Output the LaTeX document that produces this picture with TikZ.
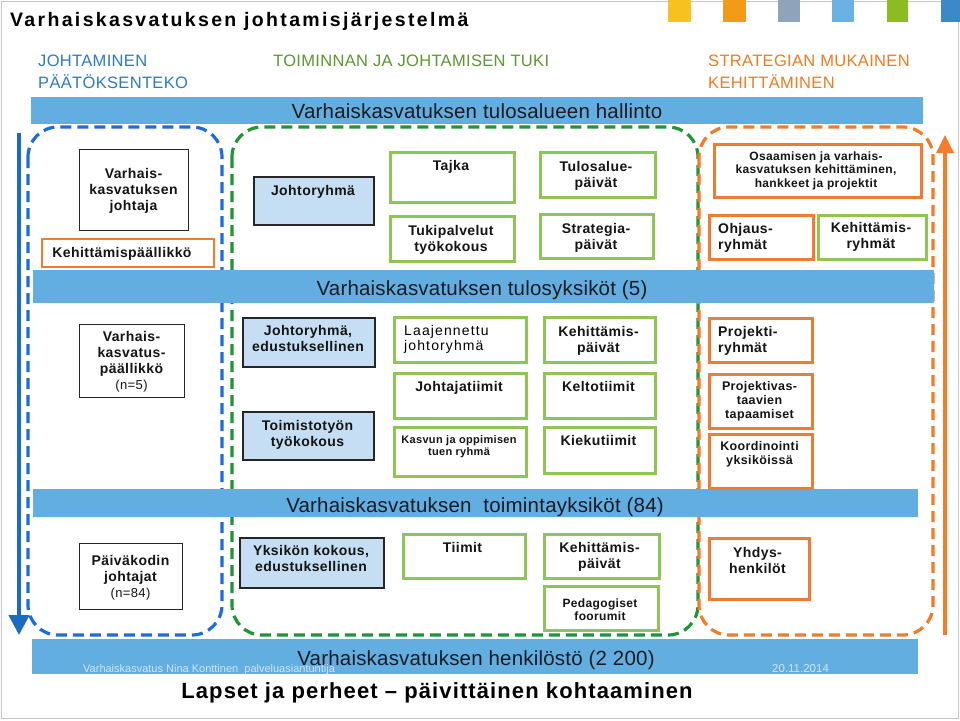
\documentclass[tikz,border=0pt]{standalone}
\usepackage{fontspec}
\setmainfont{Liberation Sans}
\newfontfamily\Ls[LetterSpace=3]{Liberation Sans}
\newfontfamily\Lw[LetterSpace=8]{Liberation Sans}
\newfontfamily\Lt[LetterSpace=12]{Liberation Sans}
\newfontfamily\Lb[LetterSpace=5]{Liberation Sans}
\newfontfamily\Lh[LetterSpace=2]{Liberation Sans}
\newfontfamily\Lr[LetterSpace=1]{Liberation Sans}
\usetikzlibrary{arrows.meta}
\newcommand\fs[2]{\fontsize{#1}{#2}\selectfont}
\definecolor{barblue}{HTML}{63AEE1}
\definecolor{bartext}{HTML}{1B1B22}
\definecolor{hblue}{HTML}{2C7BC4}
\definecolor{hgreen}{HTML}{5E9632}
\definecolor{horange}{HTML}{F07C22}
\definecolor{dblue}{HTML}{1E6CDB}
\definecolor{dgreen}{HTML}{1E9633}
\definecolor{dorange}{HTML}{F07C2A}
\definecolor{ablue}{HTML}{1A6BC2}
\definecolor{aorange}{HTML}{F37D2B}
\definecolor{boxgreen}{HTML}{8DC653}
\definecolor{boxorange}{HTML}{EE7D31}
\definecolor{lightfill}{HTML}{C5DEF3}
\definecolor{foot}{HTML}{D3E4F1}
\definecolor{sqyellow}{HTML}{F7C11F}
\definecolor{sqorange}{HTML}{F39B16}
\definecolor{sqgray}{HTML}{8FA3BB}
\definecolor{sqlblue}{HTML}{6BB1E3}
\definecolor{sqgreen}{HTML}{8BBC22}
\definecolor{sqblue}{HTML}{3D88C9}
\newcommand\boxn[9]{%
  \node[#2, anchor=north west, minimum width={(#5-#3)*1pt}, minimum height={(#6-#4)*1pt}] (#1) at (#3,#4) {};
  \node[txt, #7] (#1-t) at #8 {#9};%
}
\begin{document}
\begin{tikzpicture}[x=1pt,y=-1pt,
  txt/.style={inner sep=0pt, align=center, text=black!92, font=\Ls\bfseries\fs{14}{16}},
  gbox/.style={draw=boxgreen, line width=3pt, fill=white, inner sep=0pt},
  obox/.style={draw=boxorange, line width=3pt, fill=white, inner sep=0pt},
  kbox/.style={draw=black!85, line width=1.3pt, fill=white, inner sep=0pt},
  lbox/.style={draw=black!85, line width=1.8pt, fill=lightfill, inner sep=0pt},
  bar/.style={fill=barblue, draw=none, inner sep=0pt},
  bartxt/.style={anchor=base, text=bartext, font=\Lr\fs{20.5}{24}},
  head/.style={anchor=base west, inner sep=0pt, align=left, font=\Lh\fs{16.5}{21.6}},
  dreg/.style={line width=3.2pt, dash pattern=on 11pt off 6pt, rounded corners=30pt},
  sq/.style={draw=none, inner sep=0pt, anchor=north west, minimum height=22pt}]
\useasboundingbox (0,0) rectangle (960,720);
\fill[white] (0,0) rectangle (960,720);
\draw[black!22, line width=1pt] (1,1) rectangle (958.5,718.5);
% top squares
\node[sq, fill=sqyellow, minimum width=23pt] (s1) at (668,0) {};
\node[sq, fill=sqorange, minimum width=23pt] (s2) at (723,0) {};
\node[sq, fill=sqgray, minimum width=22pt] (s3) at (778,0) {};
\node[sq, fill=sqlblue, minimum width=22pt] (s4) at (832,0) {};
\node[sq, fill=sqgreen, minimum width=21pt] (s5) at (887,0) {};
\node[sq, fill=sqblue, minimum width=19pt] (s6) at (941,0) {};
% title
\node[anchor=base west, inner sep=0pt, font=\Lt\bfseries\fs{19.5}{22}] (title) at (10,27) {Varhaiskasvatuksen johtamisjärjestelmä};
% headers
\node[head, text=hblue] (h1) at (38,88.3) {JOHTAMINEN\\PÄÄTÖKSENTEKO};
\node[head, text=hgreen] (h2) at (273,66.7) {TOIMINNAN JA JOHTAMISEN TUKI};
\node[head, text=horange] (h3) at (708,88.3) {STRATEGIAN MUKAINEN\\KEHITTÄMINEN};
% dashed regions
\draw[dreg, draw=dblue] (28,127) rectangle (222,635);
\draw[dreg, draw=dgreen] (232,127) rectangle (698,635);
\draw[dreg, draw=dorange] (699,127) rectangle (933,635);
% arrows
\coordinate (ba1) at (19,133);
\coordinate (ba2) at (19,635);
\draw[line width=4pt, draw=ablue, -{Triangle[width=20pt,length=20pt]}] (ba1) -- (ba2);
\coordinate (oa1) at (945,635);
\coordinate (oa2) at (945,135);
\draw[line width=3.5pt, draw=aorange, -{Triangle[width=17pt,length=18pt]}] (oa1) -- (oa2);
% bars
\boxn{bar1}{bar}{31}{97}{923}{124}{bartxt}{(477,118)}{Varhaiskasvatuksen tulosalueen hallinto}
\boxn{bar2}{bar}{33}{270}{934}{303}{bartxt}{(482,295)}{Varhaiskasvatuksen tulosyksiköt (5)}
\boxn{bar3}{bar}{33}{489}{918}{517}{bartxt}{(475,512)}{Varhaiskasvatuksen\ \ toimintayksiköt (84)}
\boxn{bar4}{bar}{32}{639}{918}{674}{bartxt}{(476,665)}{Varhaiskasvatuksen henkilöstö (2 200)}
\node[anchor=base west, inner sep=0pt, text=foot, font=\fs{11}{13}] (ft1) at (83,672.7) {Varhaiskasvatus Nina Konttinen\ \ palveluasiantuntija};
\node[anchor=base west, inner sep=0pt, text=foot, font=\fs{11.5}{13}] (ft2) at (772,672.7) {20.11.2014};
% bottom line
\node[anchor=base, inner sep=0pt, font=\Lb\bfseries\fs{22}{26}] (lapset) at (437,698) {Lapset ja perheet – päivittäinen kohtaaminen};
% row 1
\boxn{vjoht}{kbox}{79}{149}{188}{230}{anchor=north}{(133.5,168)}{Varhais-\\kasvatuksen\\johtaja}
\boxn{kpaal}{obox, line width=1.5pt}{41}{238}{213}{266}{anchor=base}{(122,257)}{Kehittämispäällikkö}
\boxn{johto}{lbox}{253}{176}{373}{224}{anchor=base}{(313,195)}{Johtoryhmä}
\boxn{tajka}{gbox}{389}{151}{513}{201}{anchor=base}{(451,170)}{Tajka}
\boxn{tuki}{gbox}{389}{215}{513}{260}{anchor=north}{(451,225.5)}{Tukipalvelut\\työkokous}
\boxn{tulos}{gbox}{539}{151}{654}{196}{anchor=north}{(596,161)}{Tulosalue-\\päivät}
\boxn{strat}{gbox}{539}{213}{652}{257}{anchor=north}{(596,223)}{Strategia-\\päivät}
\boxn{osaam}{obox}{713}{143}{920}{196}{anchor=north, font=\Ls\bfseries\fs{12}{13.5}}{(816,151.5)}{Osaamisen ja varhais-\\kasvatuksen kehittäminen,\\hankkeet ja projektit}
\boxn{ohjaus}{obox}{708}{214}{812}{258}{anchor=north west, align=left}{(718,223)}{Ohjaus-\\ryhmät}
\boxn{kehry}{gbox}{817}{214}{925}{258}{anchor=north}{(871,222)}{Kehittämis-\\ryhmät}
% row 2
\boxn{vpaal}{kbox}{79}{324}{184}{397}{anchor=north}{(131.5,331)}{Varhais-\\kasvatus-\\päällikkö\\{\mdseries\fs{13}{17}(n=5)}}
\boxn{johto2}{lbox}{242}{317}{374}{366}{anchor=north}{(308,325.5)}{Johtoryhmä,\\edustuksellinen}
\boxn{toimi}{lbox}{242}{411}{373}{459}{anchor=north}{(307.5,420)}{Toimistotyön\\työkokous}
\boxn{laaj}{gbox}{393}{316}{525}{361}{anchor=north west, align=left, text=black, font=\Lw\fs{14}{15.5}}{(404,325)}{Laajennettu\\johtoryhmä}
\boxn{jtiim}{gbox}{393}{372}{525}{417}{anchor=base}{(459,391.5)}{Johtajatiimit}
\boxn{kasvun}{gbox}{393}{426}{525}{475}{anchor=north, font=\Ls\bfseries\fs{11}{12.5}}{(459,435)}{Kasvun ja oppimisen\\tuen ryhmä}
\boxn{keh2}{gbox}{543}{316}{654}{361}{anchor=north}{(598.5,326.5)}{Kehittämis-\\päivät}
\boxn{kelto}{gbox}{543}{372}{654}{417}{anchor=base}{(598.5,391.5)}{Keltotiimit}
\boxn{kieku}{gbox}{543}{426}{654}{472}{anchor=base}{(598.5,445)}{Kiekutiimit}
\boxn{proj}{obox}{708}{317}{811}{361}{anchor=north west, align=left}{(718,326.5)}{Projekti-\\ryhmät}
\boxn{projv}{obox}{708}{373}{811}{427}{anchor=north, font=\Ls\bfseries\fs{12.5}{14}}{(759.5,381.5)}{Projektivas-\\taavien\\tapaamiset}
\boxn{koord}{obox}{708}{433}{811}{487}{anchor=north, font=\Ls\bfseries\fs{12.5}{14}}{(759.5,441)}{Koordinointi\\yksiköissä}
% row 3
\boxn{pkoti}{kbox}{79}{543}{182}{609}{anchor=north}{(130.5,555.5)}{Päiväkodin\\johtajat\\{\mdseries\fs{13}{16}(n=84)}}
\boxn{yks}{lbox}{239}{537}{383}{587}{anchor=north}{(311,545.5)}{Yksikön kokous,\\edustuksellinen}
\boxn{tiimit}{gbox}{402}{533}{524}{577}{anchor=base}{(462.5,552.3)}{Tiimit}
\boxn{keh3}{gbox}{543}{533}{658}{577}{anchor=north}{(599.5,542.3)}{Kehittämis-\\päivät}
\boxn{peda}{gbox}{543}{585}{657}{629}{anchor=north, font=\Ls\bfseries\fs{12}{13.5}}{(600,598.3)}{Pedagogiset\\foorumit}
\boxn{yhdys}{obox}{708}{537}{808}{598}{anchor=north}{(757.5,546.7)}{Yhdys-\\henkilöt}
\end{tikzpicture}
\end{document}
